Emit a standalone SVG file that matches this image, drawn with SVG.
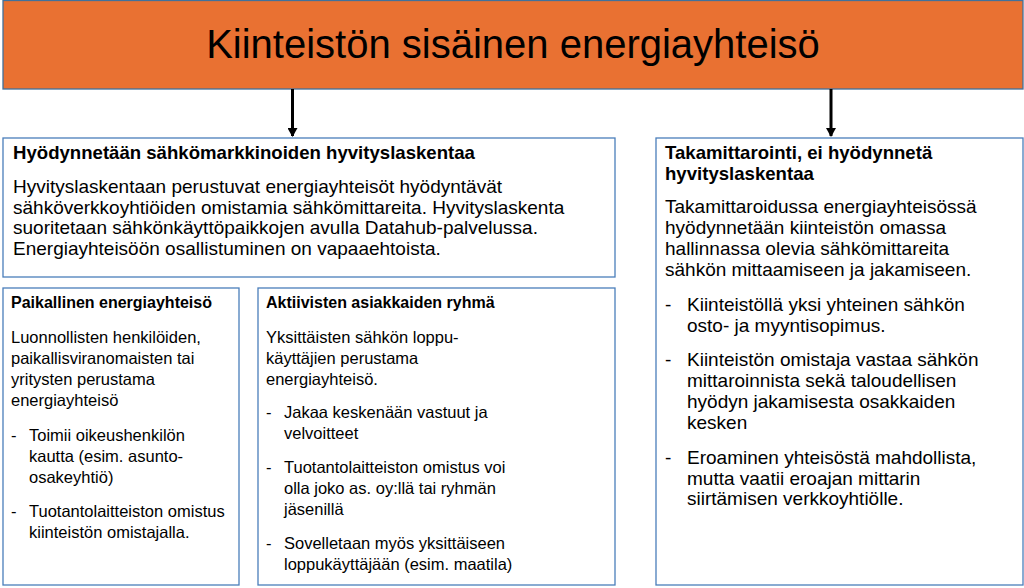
<svg xmlns="http://www.w3.org/2000/svg" width="1024" height="588" viewBox="0 0 1024 588">
<defs>
<style>
.box{fill:#ffffff;stroke:#4a7ebb;stroke-width:1.3}
.hdr{fill:#e97132;stroke:#41719c;stroke-width:1.3}
.title{font-family:"Liberation Sans",Arial,sans-serif;font-size:40px;fill:#000}
.h{font-family:"Liberation Sans",Arial,sans-serif;font-size:16px;font-weight:bold;fill:#000}
.hl{font-family:"Liberation Sans",Arial,sans-serif;font-size:18.6px;font-weight:bold;fill:#000}
.t{font-family:"Liberation Sans",Arial,sans-serif;font-size:16.5px;fill:#000}
.tl{font-family:"Liberation Sans",Arial,sans-serif;font-size:19px;fill:#000}
.conn{stroke:#000;stroke-width:3;fill:none}
</style>
<marker id="ah" markerWidth="10" markerHeight="10" refX="8" refY="5" orient="auto" markerUnits="userSpaceOnUse">
<path d="M0,0 L9,5 L0,10 z" fill="#000"/>
</marker>
</defs>
<rect width="1024" height="588" fill="#fff"/>
<g id="header">
<rect class="hdr" x="3" y="0.5" width="1020" height="88.5"/>
<text class="title" x="513" y="58" text-anchor="middle">Kiinteistön sisäinen energiayhteisö</text>
</g>
<g id="connectors">
<line class="conn" x1="292.5" y1="89" x2="292.5" y2="136" marker-end="url(#ah)"/>
<line class="conn" x1="831" y1="89" x2="831" y2="136" marker-end="url(#ah)"/>
</g>
<g id="hyvityslaskenta">
<rect class="box" x="3" y="138" width="612" height="139"/>
<text class="hl" x="13" y="159">Hyödynnetään sähkömarkkinoiden hyvityslaskentaa</text>
<text class="tl" x="13" y="193">Hyvityslaskentaan perustuvat energiayhteisöt hyödyntävät</text>
<text class="tl" x="13" y="213.5">sähköverkkoyhtiöiden omistamia sähkömittareita. Hyvityslaskenta</text>
<text class="tl" x="13" y="234">suoritetaan sähkönkäyttöpaikkojen avulla Datahub-palvelussa.</text>
<text class="tl" x="13" y="254.5">Energiayhteisöön osallistuminen on vapaaehtoista.</text>
</g>
<g id="paikallinen">
<rect class="box" x="3" y="288" width="236" height="297"/>
<text class="h" x="11" y="308">Paikallinen energiayhteisö</text>
<text class="t" x="11" y="343">Luonnollisten henkilöiden,</text>
<text class="t" x="11" y="364">paikallisviranomaisten tai</text>
<text class="t" x="11" y="385">yritysten perustama</text>
<text class="t" x="11" y="406">energiayhteisö</text>
<text class="t" x="11" y="441">-</text>
<text class="t" x="29" y="441">Toimii oikeushenkilön</text>
<text class="t" x="29" y="462">kautta (esim. asunto-</text>
<text class="t" x="29" y="483">osakeyhtiö)</text>
<text class="t" x="11" y="517">-</text>
<text class="t" x="29" y="517">Tuotantolaitteiston omistus</text>
<text class="t" x="29" y="538">kiinteistön omistajalla.</text>
</g>
<g id="aktiivisten">
<rect class="box" x="258" y="288" width="357" height="297"/>
<text class="h" x="266" y="308">Aktiivisten asiakkaiden ryhmä</text>
<text class="t" x="266" y="343">Yksittäisten sähkön loppu-</text>
<text class="t" x="266" y="364">käyttäjien perustama</text>
<text class="t" x="266" y="385">energiayhteisö.</text>
<text class="t" x="266" y="418">-</text>
<text class="t" x="284" y="418">Jakaa keskenään vastuut ja</text>
<text class="t" x="284" y="439">velvoitteet</text>
<text class="t" x="266" y="473">-</text>
<text class="t" x="284" y="473">Tuotantolaitteiston omistus voi</text>
<text class="t" x="284" y="494">olla joko as. oy:llä tai ryhmän</text>
<text class="t" x="284" y="515">jäsenillä</text>
<text class="t" x="266" y="549">-</text>
<text class="t" x="284" y="549">Sovelletaan myös yksittäiseen</text>
<text class="t" x="284" y="570">loppukäyttäjään (esim. maatila)</text>
</g>
<g id="takamittarointi">
<rect class="box" x="656" y="138" width="367" height="447"/>
<text class="hl" x="665" y="159">Takamittarointi, ei hyödynnetä</text>
<text class="hl" x="665" y="180">hyvityslaskentaa</text>
<text class="tl" x="665" y="213">Takamittaroidussa energiayhteisössä</text>
<text class="tl" x="665" y="234">hyödynnetään kiinteistön omassa</text>
<text class="tl" x="665" y="255">hallinnassa olevia sähkömittareita</text>
<text class="tl" x="665" y="276">sähkön mittaamiseen ja jakamiseen.</text>
<text class="tl" x="665" y="311">-</text>
<text class="tl" x="687" y="311">Kiinteistöllä yksi yhteinen sähkön</text>
<text class="tl" x="687" y="332">osto- ja myyntisopimus.</text>
<text class="tl" x="665" y="366">-</text>
<text class="tl" x="687" y="366">Kiinteistön omistaja vastaa sähkön</text>
<text class="tl" x="687" y="387">mittaroinnista sekä taloudellisen</text>
<text class="tl" x="687" y="408">hyödyn jakamisesta osakkaiden</text>
<text class="tl" x="687" y="429">kesken</text>
<text class="tl" x="665" y="464">-</text>
<text class="tl" x="687" y="464">Eroaminen yhteisöstä mahdollista,</text>
<text class="tl" x="687" y="484.5">mutta vaatii eroajan mittarin</text>
<text class="tl" x="687" y="505">siirtämisen verkkoyhtiölle.</text>
</g>
</svg>
